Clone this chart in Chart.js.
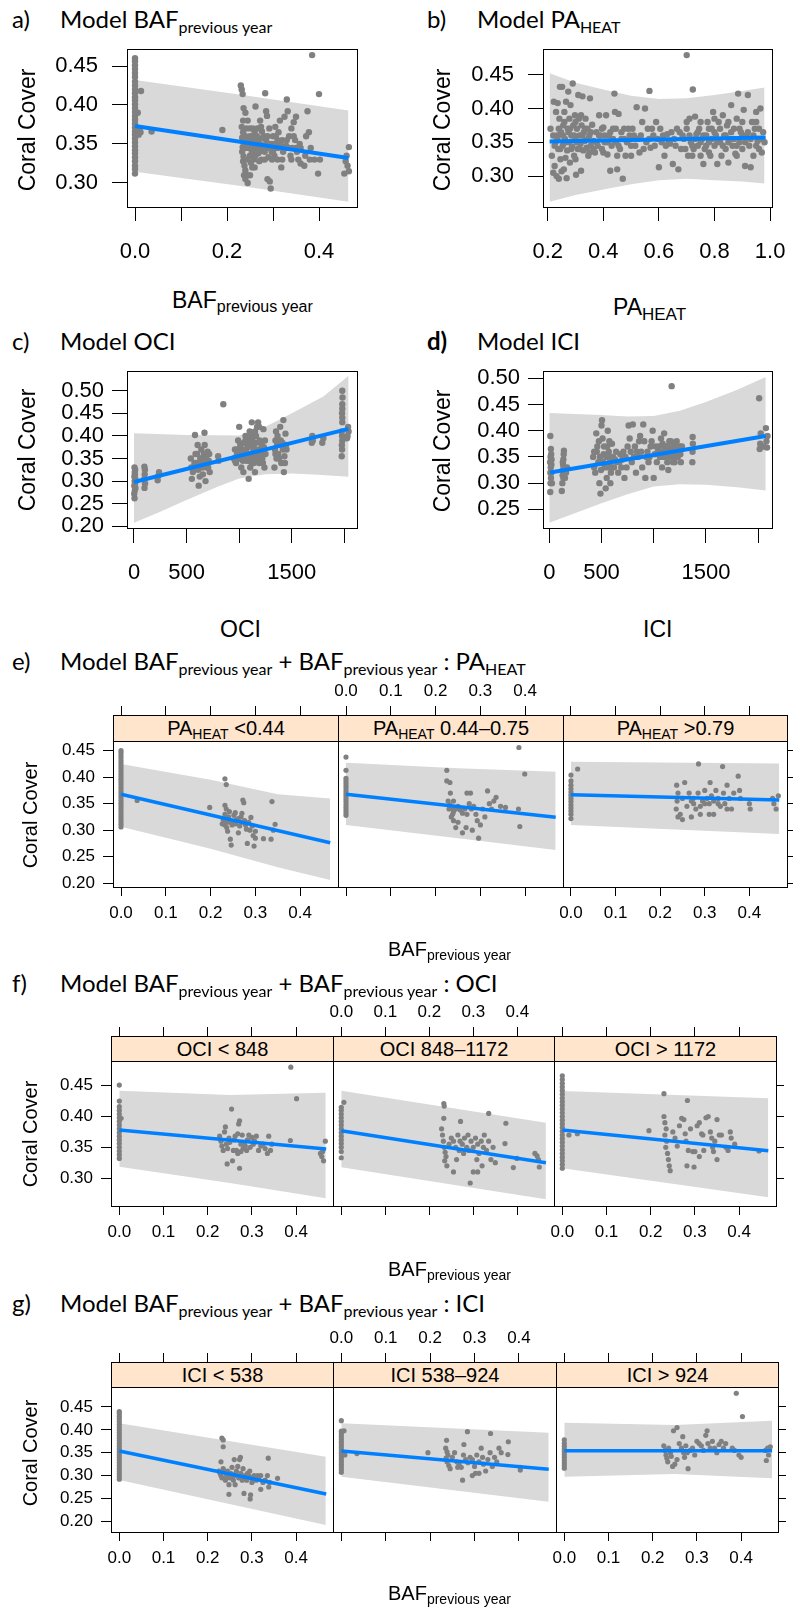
<!DOCTYPE html>
<html>
<head>
<meta charset="utf-8">
<script src="https://cdn.jsdelivr.net/npm/chart.js@4.4.1/dist/chart.umd.min.js"></script>
<style>
  body { margin: 0; width: 793px; height: 1607px; position: relative; overflow: hidden; background: #fff; }
  canvas { position: absolute; }
  .txt { position: absolute; white-space: nowrap; color: #000; }
  .sub { position: relative; top: 0.3em; line-height: 0; }
  .strip { position: absolute; box-sizing: border-box; background: #ffe5cc; border: 1px solid #000;
           display: flex; align-items: center; justify-content: center; font: 20px "Liberation Sans"; white-space: nowrap; }
</style>
</head>
<body>
<script>
// ---- panel a: Model BAF previous year ----
const aXTicks = [0, 0.1, 0.2, 0.3, 0.4];
const aXLabels = ["0.0", "", "0.2", "", "0.4"];
const aYTicks = [0.30, 0.35, 0.40, 0.45];
const aFit = [[0, 0.373], [0.464, 0.332]];
const aUpper = [[0, 0.432], [0.23, 0.413], [0.464, 0.393]];
const aLower = [[0, 0.3145], [0.23, 0.296], [0.464, 0.276]];
const aCol = [0.312, 0.318, 0.322, 0.328, 0.333, 0.338, 0.342, 0.347, 0.352, 0.357, 0.362, 0.366, 0.371, 0.376, 0.381, 0.386, 0.391, 0.396, 0.401, 0.406, 0.41, 0.415, 0.42, 0.425, 0.43, 0.436, 0.441, 0.446, 0.451, 0.456, 0.46];
const aPts = [[0.008, 0.362], [0.012, 0.365], [0.01, 0.37], [0.013, 0.418], [0.036, 0.366], [0.006, 0.39], [0.19, 0.368],
  [0.23, 0.425], [0.232, 0.42], [0.234, 0.414], [0.236, 0.396], [0.24, 0.39], [0.235, 0.38], [0.232, 0.372], [0.235, 0.365], [0.233, 0.358], [0.236, 0.352], [0.234, 0.346], [0.233, 0.34], [0.236, 0.334], [0.235, 0.328], [0.238, 0.322], [0.24, 0.316], [0.243, 0.31], [0.245, 0.3],
  [0.25, 0.36], [0.248, 0.345], [0.25, 0.335], [0.252, 0.326], [0.255, 0.345], [0.257, 0.355], [0.26, 0.34], [0.258, 0.33], [0.262, 0.398], [0.265, 0.36], [0.267, 0.35], [0.268, 0.338], [0.27, 0.328], [0.272, 0.38], [0.274, 0.372], [0.276, 0.366], [0.278, 0.358], [0.28, 0.348], [0.282, 0.34],
  [0.283, 0.415], [0.285, 0.392], [0.287, 0.386], [0.29, 0.333], [0.288, 0.305], [0.293, 0.302], [0.295, 0.293], [0.297, 0.34], [0.3, 0.36], [0.302, 0.35], [0.305, 0.372], [0.308, 0.345], [0.31, 0.33], [0.312, 0.365], [0.315, 0.38], [0.318, 0.32], [0.32, 0.355], [0.322, 0.34],
  [0.325, 0.385], [0.328, 0.348], [0.33, 0.407], [0.332, 0.392], [0.335, 0.36], [0.338, 0.335], [0.34, 0.37], [0.342, 0.345], [0.345, 0.378], [0.348, 0.355], [0.35, 0.385], [0.352, 0.34], [0.355, 0.33], [0.358, 0.35], [0.36, 0.325], [0.368, 0.322],
  [0.372, 0.36], [0.375, 0.392], [0.378, 0.365], [0.382, 0.345], [0.385, 0.464], [0.39, 0.33], [0.398, 0.312], [0.4, 0.414], [0.402, 0.33], [0.455, 0.312], [0.46, 0.335], [0.462, 0.322], [0.465, 0.315], [0.465, 0.346], [0.458, 0.328],
  [0.245, 0.35], [0.24, 0.36], [0.26, 0.365], [0.27, 0.345], [0.29, 0.35], [0.3, 0.34], [0.31, 0.355], [0.33, 0.345], [0.244, 0.33], [0.255, 0.32],
  [0.238, 0.36], [0.24, 0.345], [0.242, 0.37], [0.245, 0.38], [0.246, 0.355], [0.25, 0.37], [0.252, 0.35], [0.254, 0.34], [0.256, 0.37], [0.258, 0.36], [0.26, 0.35], [0.262, 0.335], [0.264, 0.345], [0.266, 0.37], [0.268, 0.355], [0.27, 0.34], [0.272, 0.35], [0.275, 0.33], [0.277, 0.345], [0.28, 0.36], [0.282, 0.33], [0.285, 0.355], [0.288, 0.36], [0.29, 0.345], [0.292, 0.37], [0.295, 0.35], [0.298, 0.33], [0.3, 0.345], [0.303, 0.335], [0.306, 0.36], [0.31, 0.345], [0.315, 0.35], [0.32, 0.33], [0.325, 0.345], [0.33, 0.355], [0.335, 0.345], [0.34, 0.33], [0.345, 0.36], [0.35, 0.345], [0.36, 0.345], [0.37, 0.335], [0.38, 0.33], [0.237, 0.31], [0.24, 0.305], [0.25, 0.31], [0.26, 0.32]];

// ---- panel b: Model PA HEAT ----
const bXTicks = [0.2, 0.4, 0.6, 0.8, 1.0];
const bXLabels = ["0.2", "0.4", "0.6", "0.8", "1.0"];
const bYTicks = [0.30, 0.35, 0.40, 0.45];
const bFit = [[0.207, 0.351], [0.984, 0.357]];
const bUpper = [[0.207, 0.452], [0.3, 0.438], [0.4, 0.428], [0.5, 0.419], [0.6, 0.414], [0.7, 0.415], [0.8, 0.42], [0.9, 0.426], [0.98, 0.431]];
const bLower = [[0.207, 0.262], [0.3, 0.272], [0.4, 0.28], [0.5, 0.288], [0.6, 0.294], [0.7, 0.296], [0.8, 0.294], [0.9, 0.292], [0.98, 0.289]];
const bPts = [[0.21, 0.37], [0.215, 0.33], [0.22, 0.305], [0.222, 0.41], [0.225, 0.315], [0.228, 0.35], [0.23, 0.395], [0.232, 0.3], [0.234, 0.36], [0.236, 0.408], [0.238, 0.34], [0.24, 0.296], [0.242, 0.385], [0.244, 0.432], [0.246, 0.325], [0.248, 0.365], [0.25, 0.307], [0.252, 0.432], [0.254, 0.345], [0.256, 0.375], [0.258, 0.31], [0.26, 0.395], [0.262, 0.355], [0.264, 0.327], [0.266, 0.41], [0.268, 0.297], [0.27, 0.338], [0.272, 0.37], [0.274, 0.425], [0.276, 0.35], [0.278, 0.385], [0.28, 0.32], [0.282, 0.405], [0.285, 0.36], [0.288, 0.344], [0.29, 0.437], [0.292, 0.375], [0.295, 0.33], [0.298, 0.39], [0.3, 0.355], [0.302, 0.302], [0.305, 0.37], [0.308, 0.34], [0.31, 0.42], [0.312, 0.385], [0.315, 0.36], [0.318, 0.348], [0.32, 0.308], [0.322, 0.375], [0.325, 0.418], [0.328, 0.338], [0.33, 0.365], [0.333, 0.352], [0.336, 0.385], [0.34, 0.342], [0.343, 0.37], [0.346, 0.33], [0.35, 0.36], [0.352, 0.415], [0.355, 0.345], [0.36, 0.376], [0.365, 0.352], [0.37, 0.335], [0.375, 0.365], [0.38, 0.345], [0.385, 0.39], [0.39, 0.36], [0.395, 0.34], [0.4, 0.372], [0.405, 0.35], [0.41, 0.39], [0.415, 0.332], [0.42, 0.36], [0.425, 0.308], [0.43, 0.345], [0.435, 0.37], [0.44, 0.422], [0.442, 0.395], [0.445, 0.35], [0.45, 0.31], [0.455, 0.392], [0.46, 0.34], [0.465, 0.365], [0.47, 0.296], [0.475, 0.355], [0.48, 0.33], [0.49, 0.37], [0.5, 0.345], [0.51, 0.36], [0.52, 0.402], [0.53, 0.335], [0.54, 0.38], [0.55, 0.4], [0.555, 0.35], [0.56, 0.37], [0.566, 0.426], [0.57, 0.342], [0.58, 0.36], [0.59, 0.38], [0.6, 0.313], [0.61, 0.35], [0.62, 0.33], [0.63, 0.362], [0.64, 0.348], [0.65, 0.318], [0.66, 0.345], [0.67, 0.31], [0.675, 0.365], [0.68, 0.34], [0.69, 0.355], [0.7, 0.479], [0.705, 0.33], [0.71, 0.385], [0.715, 0.35], [0.722, 0.428], [0.725, 0.34], [0.73, 0.388], [0.735, 0.362], [0.74, 0.345], [0.745, 0.37], [0.75, 0.33], [0.755, 0.355], [0.76, 0.318], [0.765, 0.34], [0.77, 0.36], [0.775, 0.38], [0.78, 0.35], [0.785, 0.33], [0.79, 0.37], [0.795, 0.395], [0.8, 0.345], [0.805, 0.36], [0.81, 0.318], [0.815, 0.38], [0.82, 0.35], [0.825, 0.33], [0.83, 0.39], [0.835, 0.36], [0.84, 0.34], [0.845, 0.375], [0.85, 0.32], [0.855, 0.355], [0.86, 0.405], [0.865, 0.345], [0.87, 0.37], [0.875, 0.333], [0.88, 0.385], [0.885, 0.422], [0.89, 0.35], [0.895, 0.365], [0.9, 0.34], [0.905, 0.398], [0.91, 0.315], [0.915, 0.36], [0.92, 0.42], [0.925, 0.345], [0.93, 0.313], [0.935, 0.38], [0.94, 0.33], [0.945, 0.37], [0.95, 0.395], [0.955, 0.352], [0.96, 0.34], [0.965, 0.4], [0.97, 0.335], [0.975, 0.365], [0.98, 0.35],
  [0.22, 0.36], [0.225, 0.345], [0.235, 0.355], [0.245, 0.34], [0.255, 0.36], [0.265, 0.35], [0.275, 0.365], [0.285, 0.34], [0.295, 0.36], [0.305, 0.35], [0.315, 0.34], [0.325, 0.36], [0.335, 0.37], [0.345, 0.355], [0.355, 0.365], [0.365, 0.34], [0.375, 0.35], [0.385, 0.36], [0.395, 0.37], [0.405, 0.36], [0.415, 0.35], [0.425, 0.365], [0.435, 0.355], [0.445, 0.37], [0.455, 0.345], [0.465, 0.355], [0.475, 0.37], [0.485, 0.35], [0.495, 0.36], [0.505, 0.37], [0.515, 0.345], [0.525, 0.355], [0.535, 0.36], [0.545, 0.34], [0.565, 0.355], [0.575, 0.37], [0.585, 0.345], [0.595, 0.355], [0.605, 0.37], [0.615, 0.36], [0.625, 0.345], [0.635, 0.35], [0.645, 0.365], [0.655, 0.355], [0.665, 0.37], [0.685, 0.36], [0.695, 0.34], [0.7, 0.37], [0.71, 0.36], [0.72, 0.345], [0.73, 0.355], [0.74, 0.365], [0.75, 0.35], [0.76, 0.36], [0.77, 0.345], [0.78, 0.37], [0.79, 0.355], [0.8, 0.365], [0.81, 0.35], [0.82, 0.37], [0.83, 0.345], [0.84, 0.36], [0.85, 0.35], [0.86, 0.365], [0.87, 0.355], [0.88, 0.345], [0.89, 0.37], [0.9, 0.36], [0.91, 0.35], [0.92, 0.365], [0.93, 0.355], [0.94, 0.36], [0.95, 0.345], [0.96, 0.37], [0.97, 0.355], [0.3, 0.38], [0.32, 0.39], [0.28, 0.37], [0.26, 0.38], [0.24, 0.37], [0.7, 0.38], [0.75, 0.38], [0.8, 0.385], [0.85, 0.38], [0.9, 0.38], [0.95, 0.38], [0.72, 0.33], [0.78, 0.335], [0.88, 0.33], [0.5, 0.33], [0.45, 0.33], [0.4, 0.335], [0.35, 0.335], [0.3, 0.325]];

// ---- panel c: Model OCI ----
const cXTicks = [0, 500, 1000, 1500, 2000];
const cXLabels = ["0", "500", "", "1500", ""];
const cYTicks = [0.20, 0.25, 0.30, 0.35, 0.40, 0.45, 0.50];
const cFit = [[0, 0.298], [2038, 0.4155]];
const cUpper = [[0, 0.406], [500, 0.402], [1000, 0.401], [1250, 0.42], [1500, 0.45], [1800, 0.487], [2040, 0.533]];
const cLower = [[0, 0.208], [250, 0.232], [500, 0.258], [800, 0.288], [1000, 0.306], [1250, 0.315], [1500, 0.317], [1750, 0.314], [2040, 0.3095]];
const cPts = [[5, 0.262], [8, 0.28], [3, 0.29], [10, 0.295], [6, 0.30], [12, 0.305], [4, 0.31], [9, 0.315], [7, 0.32], [11, 0.325], [5, 0.33], [14, 0.285], [2, 0.272],
  [100, 0.285], [105, 0.295], [98, 0.305], [102, 0.315], [104, 0.325], [99, 0.332], [225, 0.302], [232, 0.312], [238, 0.32],
  [540, 0.35], [545, 0.33], [550, 0.305], [580, 0.402], [590, 0.34], [600, 0.36], [605, 0.38], [610, 0.325], [615, 0.29], [620, 0.335], [630, 0.35], [640, 0.37], [650, 0.33], [655, 0.315], [660, 0.34], [665, 0.36], [670, 0.407], [672, 0.38], [680, 0.30], [685, 0.35], [690, 0.33], [700, 0.365], [710, 0.345], [720, 0.32],
  [800, 0.355], [805, 0.345], [849, 0.47],
  [950, 0.35], [960, 0.37], [970, 0.34], [980, 0.36], [990, 0.39], [1000, 0.42], [1005, 0.35], [1010, 0.38], [1020, 0.33], [1030, 0.37], [1040, 0.32], [1050, 0.36], [1060, 0.39], [1070, 0.345], [1080, 0.375], [1090, 0.305], [1100, 0.41], [1105, 0.33], [1110, 0.36], [1120, 0.43], [1130, 0.35], [1140, 0.38], [1150, 0.32], [1160, 0.4], [1170, 0.36], [1180, 0.43], [1190, 0.34], [1200, 0.385], [1210, 0.37], [1220, 0.35], [1230, 0.415], [1240, 0.33], [1250, 0.36], [1100, 0.385], [1125, 0.395], [1150, 0.41], [1175, 0.35], [1060, 0.4], [1090, 0.355], [1140, 0.34], [1200, 0.36], [1010, 0.36],
  [1335, 0.33], [1340, 0.37], [1345, 0.39], [1350, 0.41], [1355, 0.35], [1360, 0.38], [1370, 0.36], [1390, 0.42], [1400, 0.34], [1410, 0.385], [1420, 0.435], [1425, 0.32], [1430, 0.355], [1440, 0.405], [1450, 0.37],
  [1690, 0.385], [1695, 0.40], [1700, 0.39], [1790, 0.385], [1800, 0.395],
  [1975, 0.355], [1978, 0.37], [1980, 0.39], [1975, 0.41], [1980, 0.43], [1978, 0.45], [1980, 0.47], [1982, 0.485], [1980, 0.50], [1976, 0.38], [1978, 0.4], [1980, 0.44], [1980, 0.46], [2030, 0.40], [2035, 0.42], [2040, 0.41], [2025, 0.395],
  [560, 0.32], [575, 0.34], [585, 0.36], [595, 0.33], [625, 0.31], [635, 0.34], [645, 0.35], [675, 0.35], [695, 0.34], [705, 0.33], [715, 0.36], [960, 0.345], [975, 0.355], [985, 0.37], [995, 0.35], [1015, 0.36], [1025, 0.355], [1035, 0.345], [1045, 0.385], [1055, 0.35], [1065, 0.37], [1075, 0.36], [1085, 0.39], [1095, 0.345], [1115, 0.38], [1135, 0.37], [1145, 0.36], [1155, 0.385], [1165, 0.345], [1185, 0.37], [1195, 0.39], [1205, 0.355], [1215, 0.38], [1225, 0.34], [1235, 0.375], [1245, 0.39], [1120, 0.34], [1170, 0.42], [1190, 0.42], [1110, 0.4], [1345, 0.36], [1365, 0.4], [1380, 0.35], [1395, 0.39], [1415, 0.37], [1435, 0.34], [1445, 0.38]];

// ---- panel d: Model ICI ----
const dXTicks = [0, 500, 1000, 1500, 2000];
const dXLabels = ["0", "500", "", "1500", ""];
const dYTicks = [0.25, 0.30, 0.35, 0.40, 0.45, 0.50];
const dFit = [[7, 0.3202], [2073, 0.39]];
const dUpper = [[0, 0.434], [250, 0.432], [500, 0.43], [750, 0.427], [1000, 0.428], [1250, 0.438], [1500, 0.455], [1800, 0.478], [2073, 0.5025]];
const dLower = [[0, 0.2244], [250, 0.243], [500, 0.2614], [750, 0.279], [1000, 0.2935], [1250, 0.298], [1500, 0.2968], [1800, 0.292], [2073, 0.2857]];
const dPts = [[10, 0.39], [15, 0.365], [12, 0.35], [8, 0.34], [14, 0.33], [10, 0.32], [16, 0.31], [12, 0.30], [9, 0.283], [18, 0.355], [20, 0.335], [22, 0.345],
  [120, 0.285], [125, 0.30], [128, 0.315], [130, 0.325], [132, 0.335], [135, 0.345], [138, 0.355], [140, 0.362], [160, 0.32], [170, 0.33], [150, 0.31],
  [420, 0.35], [430, 0.33], [440, 0.32], [450, 0.395], [460, 0.37], [470, 0.34], [480, 0.30], [490, 0.28], [500, 0.41], [505, 0.42], [510, 0.385], [520, 0.355], [530, 0.33], [540, 0.29], [550, 0.31], [560, 0.40], [570, 0.36], [580, 0.34], [590, 0.32], [600, 0.375], [610, 0.35], [620, 0.33], [640, 0.36], [650, 0.34], [660, 0.32], [680, 0.355], [700, 0.345], [720, 0.31], [740, 0.33], [760, 0.41], [770, 0.385], [780, 0.36], [790, 0.34], [800, 0.412], [820, 0.37], [830, 0.32], [850, 0.35], [870, 0.39], [880, 0.36], [890, 0.33], [900, 0.412], [910, 0.38], [920, 0.31], [930, 0.35], [950, 0.34], [970, 0.37], [990, 0.40], [1000, 0.31],
  [1010, 0.355], [1030, 0.34], [1050, 0.37], [1060, 0.35], [1070, 0.385], [1080, 0.33], [1090, 0.36], [1100, 0.395], [1110, 0.35], [1120, 0.37], [1130, 0.34], [1140, 0.325], [1150, 0.38], [1160, 0.36], [1172, 0.485], [1180, 0.35], [1190, 0.375], [1200, 0.34], [1210, 0.36], [1220, 0.38], [1230, 0.35], [1250, 0.37], [1260, 0.34],
  [1370, 0.34], [1372, 0.36], [1375, 0.375], [1373, 0.388],
  [2010, 0.462], [2015, 0.365], [2020, 0.375], [2025, 0.395], [2050, 0.37], [2075, 0.405], [2080, 0.38], [2090, 0.39], [2085, 0.368],
  [430, 0.36], [455, 0.36], [475, 0.38], [485, 0.35], [495, 0.325], [515, 0.34], [525, 0.37], [545, 0.35], [555, 0.37], [565, 0.33], [575, 0.38], [585, 0.3], [595, 0.35], [605, 0.33], [630, 0.345], [670, 0.34], [690, 0.33], [710, 0.36], [730, 0.35], [750, 0.37], [810, 0.35], [840, 0.36], [860, 0.38], [940, 0.36], [960, 0.35], [980, 0.38], [1020, 0.37], [1040, 0.36], [1065, 0.36], [1085, 0.375], [1095, 0.35], [1105, 0.37], [1115, 0.36], [1125, 0.355], [1135, 0.37], [1145, 0.35], [1155, 0.365], [1165, 0.38], [1175, 0.36], [1185, 0.34], [1195, 0.36], [1205, 0.37], [1215, 0.35], [1225, 0.365], [1240, 0.36], [1255, 0.355], [1270, 0.37], [20, 0.32], [25, 0.3], [130, 0.34], [135, 0.31]];

// ---- facet rows e, f, g (shared x ticks) ----
const facetXTicks = [0, 0.1, 0.2, 0.3, 0.4];
const facetXLabels = ["0.0", "0.1", "0.2", "0.3", "0.4"];
const eYTicks = [0.20, 0.25, 0.30, 0.35, 0.40, 0.45];
const fYTicks = [0.30, 0.35, 0.40, 0.45];
const gYTicks = [0.20, 0.25, 0.30, 0.35, 0.40, 0.45];
const eStrips = ['PA<span class="sub" style="font-size:14px">HEAT</span> &lt;0.44', 'PA<span class="sub" style="font-size:14px">HEAT</span> 0.44\u20130.75', 'PA<span class="sub" style="font-size:14px">HEAT</span> &gt;0.79'];
const fStrips = ["OCI &lt; 848", "OCI 848\u20131172", "OCI &gt; 1172"];
const gStrips = ["ICI &lt; 538", "ICI 538\u2013924", "ICI &gt; 924"];

const e1Fit = [[0, 0.3677], [0.467, 0.2764]];
const e1Upper = [[0, 0.425], [0.2, 0.395], [0.35, 0.368], [0.467, 0.36]];
const e1Lower = [[0, 0.3066], [0.2, 0.265], [0.35, 0.23], [0.467, 0.206]];
const e1Col = [0.306, 0.311, 0.316, 0.321, 0.326, 0.331, 0.336, 0.341, 0.346, 0.351, 0.356, 0.361, 0.366, 0.371, 0.376, 0.381, 0.386, 0.391, 0.396, 0.401, 0.406, 0.411, 0.416, 0.421, 0.426, 0.431, 0.436, 0.441, 0.446, 0.45];
const e1Pts = [[0.036, 0.356], [0.198, 0.343], [0.232, 0.397], [0.235, 0.386], [0.232, 0.347], [0.235, 0.34], [0.232, 0.33], [0.234, 0.318], [0.232, 0.31], [0.236, 0.305], [0.238, 0.298], [0.24, 0.325], [0.242, 0.335], [0.244, 0.283], [0.246, 0.272], [0.25, 0.315], [0.252, 0.328], [0.255, 0.333], [0.258, 0.32], [0.262, 0.295], [0.265, 0.308], [0.268, 0.325], [0.27, 0.332], [0.272, 0.357], [0.274, 0.352], [0.276, 0.318], [0.278, 0.31], [0.28, 0.302], [0.282, 0.275], [0.285, 0.315], [0.288, 0.30], [0.29, 0.324], [0.293, 0.308], [0.295, 0.29], [0.297, 0.27], [0.3, 0.285], [0.3, 0.298], [0.318, 0.284], [0.335, 0.283], [0.337, 0.354], [0.34, 0.3], [0.344, 0.311], [0.226, 0.312], [0.228, 0.32], [0.24, 0.315], [0.248, 0.31], [0.256, 0.312], [0.262, 0.322], [0.27, 0.315]];

const e2Fit = [[0, 0.3677], [0.468, 0.3243]];
const e2Upper = [[0, 0.4274], [0.25, 0.417], [0.468, 0.4104]];
const e2Lower = [[0, 0.3099], [0.25, 0.285], [0.468, 0.2628]];
const e2Col = [0.328, 0.333, 0.338, 0.343, 0.348, 0.353, 0.358, 0.363, 0.368, 0.373, 0.378, 0.383, 0.388, 0.393, 0.398, 0.413, 0.438];
const e2Pts = [[0.386, 0.456], [0.399, 0.406], [0.225, 0.413], [0.225, 0.393], [0.232, 0.39], [0.233, 0.37], [0.24, 0.355], [0.228, 0.355], [0.232, 0.348], [0.236, 0.342], [0.24, 0.335], [0.245, 0.34], [0.25, 0.345], [0.255, 0.338], [0.26, 0.332], [0.235, 0.325], [0.24, 0.318], [0.25, 0.315], [0.245, 0.305], [0.27, 0.37], [0.278, 0.37], [0.275, 0.35], [0.28, 0.34], [0.285, 0.345], [0.29, 0.33], [0.293, 0.318], [0.296, 0.285], [0.3, 0.31], [0.305, 0.34], [0.31, 0.325], [0.316, 0.374], [0.32, 0.35], [0.325, 0.34], [0.33, 0.355], [0.335, 0.362], [0.345, 0.345], [0.356, 0.343], [0.385, 0.34], [0.388, 0.307], [0.268, 0.305], [0.26, 0.295], [0.282, 0.3], [0.23, 0.34], [0.238, 0.33], [0.265, 0.34], [0.27, 0.33]];

const e3Fit = [[0, 0.367], [0.467, 0.357]];
const e3Upper = [[0, 0.4293], [0.467, 0.426]];
const e3Lower = [[0, 0.31], [0.467, 0.2928]];
const e3Col = [0.322, 0.33, 0.336, 0.342, 0.348, 0.354, 0.36, 0.366, 0.372, 0.378, 0.385, 0.393, 0.404];
const e3Pts = [[0.015, 0.4155], [0.237, 0.385], [0.24, 0.37], [0.238, 0.355], [0.236, 0.34], [0.24, 0.325], [0.245, 0.33], [0.25, 0.36], [0.255, 0.39], [0.26, 0.345], [0.265, 0.37], [0.27, 0.355], [0.274, 0.36], [0.28, 0.34], [0.285, 0.37], [0.286, 0.425], [0.29, 0.33], [0.295, 0.355], [0.3, 0.375], [0.305, 0.36], [0.31, 0.35], [0.312, 0.39], [0.315, 0.365], [0.32, 0.33], [0.325, 0.375], [0.33, 0.36], [0.335, 0.345], [0.34, 0.42], [0.342, 0.37], [0.345, 0.35], [0.35, 0.385], [0.355, 0.36], [0.36, 0.34], [0.365, 0.37], [0.375, 0.402], [0.378, 0.375], [0.38, 0.36], [0.4, 0.35], [0.402, 0.34], [0.452, 0.36], [0.455, 0.35], [0.46, 0.34], [0.465, 0.365], [0.25, 0.32], [0.27, 0.325], [0.31, 0.33], [0.35, 0.34], [0.275, 0.35], [0.29, 0.345], [0.3, 0.35], [0.32, 0.355], [0.33, 0.35]];

const f1Fit = [[0, 0.378], [0.468, 0.3473]];
const f1Upper = [[0, 0.4419], [0.25, 0.435], [0.467, 0.4386]];
const f1Lower = [[0, 0.3185], [0.25, 0.292], [0.467, 0.2672]];
const f1Col = [0.332, 0.338, 0.344, 0.35, 0.356, 0.362, 0.368, 0.374, 0.38, 0.386, 0.392, 0.398, 0.404, 0.41, 0.416, 0.425, 0.451];
const f1Pts = [[0.004, 0.397], [0.227, 0.368], [0.23, 0.36], [0.232, 0.352], [0.235, 0.345], [0.238, 0.375], [0.24, 0.383], [0.242, 0.355], [0.245, 0.348], [0.244, 0.323], [0.248, 0.365], [0.25, 0.358], [0.254, 0.412], [0.256, 0.328], [0.258, 0.345], [0.26, 0.362], [0.262, 0.368], [0.265, 0.345], [0.268, 0.372], [0.27, 0.388], [0.272, 0.393], [0.272, 0.316], [0.275, 0.355], [0.278, 0.37], [0.28, 0.348], [0.283, 0.358], [0.285, 0.352], [0.288, 0.345], [0.29, 0.362], [0.293, 0.37], [0.296, 0.35], [0.3, 0.366], [0.303, 0.355], [0.306, 0.36], [0.31, 0.368], [0.315, 0.345], [0.32, 0.352], [0.325, 0.355], [0.33, 0.348], [0.335, 0.34], [0.338, 0.368], [0.342, 0.345], [0.345, 0.355], [0.388, 0.48], [0.401, 0.429], [0.387, 0.361], [0.455, 0.34], [0.458, 0.335], [0.46, 0.343], [0.462, 0.328], [0.466, 0.36], [0.268, 0.34], [0.275, 0.343]];

const f2Fit = [[0, 0.377], [0.465, 0.325]];
const f2Upper = [[0, 0.442], [0.465, 0.39]];
const f2Lower = [[0, 0.3175], [0.465, 0.2656]];
const f2Col = [0.333, 0.343, 0.35, 0.356, 0.362, 0.368, 0.374, 0.38, 0.386, 0.392, 0.398, 0.404, 0.41, 0.415];
const f2Pts = [[0.006, 0.423], [0.233, 0.421], [0.234, 0.417], [0.233, 0.397], [0.271, 0.392], [0.335, 0.405], [0.374, 0.389], [0.228, 0.38], [0.23, 0.37], [0.232, 0.36], [0.234, 0.35], [0.236, 0.342], [0.238, 0.335], [0.235, 0.328], [0.24, 0.32], [0.245, 0.355], [0.25, 0.365], [0.255, 0.36], [0.26, 0.35], [0.265, 0.37], [0.268, 0.345], [0.27, 0.36], [0.275, 0.355], [0.278, 0.34], [0.28, 0.365], [0.285, 0.35], [0.288, 0.37], [0.29, 0.345], [0.293, 0.292], [0.295, 0.36], [0.3, 0.35], [0.305, 0.365], [0.308, 0.33], [0.31, 0.355], [0.313, 0.34], [0.318, 0.36], [0.32, 0.32], [0.323, 0.35], [0.325, 0.37], [0.33, 0.345], [0.335, 0.36], [0.34, 0.33], [0.345, 0.35], [0.35, 0.325], [0.372, 0.356], [0.399, 0.332], [0.391, 0.317], [0.448, 0.33], [0.45, 0.318], [0.445, 0.336], [0.44, 0.34], [0.255, 0.31], [0.262, 0.33], [0.3, 0.31], [0.31, 0.31]];

const f3Fit = [[0, 0.378], [0.466, 0.3445]];
const f3Upper = [[0, 0.4414], [0.466, 0.4295]];
const f3Lower = [[0, 0.316], [0.466, 0.2688]];
const f3Col = [0.316, 0.322, 0.328, 0.334, 0.34, 0.346, 0.352, 0.358, 0.364, 0.37, 0.376, 0.382, 0.388, 0.394, 0.4, 0.406, 0.412, 0.418, 0.424, 0.43, 0.436, 0.442, 0.448, 0.454, 0.46, 0.466];
const f3Pts = [[0.015, 0.37], [0.034, 0.372], [0.196, 0.377], [0.23, 0.437], [0.283, 0.426], [0.445, 0.344], [0.23, 0.4], [0.232, 0.39], [0.235, 0.38], [0.232, 0.37], [0.236, 0.36], [0.234, 0.35], [0.238, 0.34], [0.24, 0.33], [0.242, 0.32], [0.244, 0.312], [0.25, 0.375], [0.255, 0.365], [0.26, 0.352], [0.265, 0.385], [0.27, 0.397], [0.275, 0.395], [0.278, 0.372], [0.28, 0.36], [0.282, 0.32], [0.285, 0.345], [0.29, 0.38], [0.295, 0.343], [0.298, 0.318], [0.3, 0.343], [0.305, 0.385], [0.31, 0.39], [0.315, 0.372], [0.318, 0.37], [0.32, 0.345], [0.325, 0.398], [0.33, 0.4], [0.335, 0.375], [0.338, 0.365], [0.34, 0.35], [0.342, 0.343], [0.345, 0.36], [0.35, 0.395], [0.355, 0.37], [0.36, 0.37], [0.37, 0.35], [0.375, 0.345], [0.38, 0.375], [0.382, 0.365], [0.39, 0.355], [0.35, 0.33], [0.31, 0.335]];

const g1Fit = [[0, 0.3538], [0.468, 0.2597]];
const g1Upper = [[0, 0.4143], [0.467, 0.3413]];
const g1Lower = [[0, 0.2903], [0.467, 0.1919]];
const g1Col = [0.292, 0.298, 0.304, 0.31, 0.316, 0.322, 0.328, 0.334, 0.34, 0.346, 0.352, 0.358, 0.364, 0.37, 0.376, 0.382, 0.388, 0.394, 0.4, 0.406, 0.412, 0.418, 0.424, 0.43, 0.436, 0.44];
const g1Pts = [[0.232, 0.382], [0.235, 0.378], [0.235, 0.363], [0.337, 0.338], [0.358, 0.294], [0.297, 0.258], [0.296, 0.249], [0.282, 0.261], [0.248, 0.259], [0.225, 0.31], [0.228, 0.305], [0.23, 0.3], [0.232, 0.295], [0.235, 0.315], [0.238, 0.31], [0.24, 0.29], [0.242, 0.302], [0.245, 0.31], [0.248, 0.28], [0.25, 0.295], [0.252, 0.305], [0.255, 0.318], [0.258, 0.29], [0.26, 0.3], [0.262, 0.28], [0.265, 0.31], [0.268, 0.32], [0.27, 0.295], [0.272, 0.335], [0.274, 0.34], [0.275, 0.305], [0.278, 0.29], [0.28, 0.315], [0.285, 0.3], [0.288, 0.29], [0.29, 0.305], [0.295, 0.31], [0.298, 0.295], [0.3, 0.285], [0.305, 0.3], [0.31, 0.29], [0.315, 0.295], [0.32, 0.3], [0.325, 0.285], [0.33, 0.29], [0.335, 0.3], [0.338, 0.275], [0.34, 0.285], [0.32, 0.27], [0.26, 0.335], [0.23, 0.33], [0.243, 0.295], [0.253, 0.3], [0.263, 0.305], [0.283, 0.295], [0.293, 0.3], [0.303, 0.29], [0.313, 0.3]];

const g2Fit = [[0, 0.3538], [0.467, 0.3137]];
const g2Upper = [[0, 0.4143], [0.467, 0.3938]];
const g2Lower = [[0, 0.2975], [0.467, 0.2429]];
const g2Col = [0.307, 0.313, 0.319, 0.325, 0.331, 0.337, 0.343, 0.349, 0.355, 0.361, 0.367, 0.373, 0.379, 0.385, 0.391, 0.397, 0.42];
const g2Pts = [[0.006, 0.398], [0.008, 0.345], [0.035, 0.348], [0.195, 0.35], [0.284, 0.396], [0.336, 0.392], [0.376, 0.374], [0.375, 0.346], [0.403, 0.318], [0.403, 0.312], [0.273, 0.29], [0.237, 0.377], [0.235, 0.36], [0.238, 0.352], [0.24, 0.345], [0.236, 0.338], [0.238, 0.33], [0.242, 0.322], [0.245, 0.315], [0.25, 0.34], [0.255, 0.35], [0.26, 0.33], [0.262, 0.318], [0.265, 0.325], [0.27, 0.318], [0.275, 0.345], [0.276, 0.368], [0.28, 0.335], [0.285, 0.328], [0.29, 0.34], [0.295, 0.335], [0.3, 0.32], [0.302, 0.305], [0.305, 0.345], [0.31, 0.33], [0.315, 0.36], [0.318, 0.34], [0.32, 0.325], [0.325, 0.31], [0.33, 0.335], [0.335, 0.35], [0.34, 0.32], [0.345, 0.34], [0.35, 0.33], [0.355, 0.36], [0.36, 0.35], [0.31, 0.305], [0.295, 0.3]];

const g3Fit = [[0, 0.3544], [0.47, 0.3544]];
const g3Upper = [[0, 0.4157], [0.25, 0.4106], [0.47, 0.42]];
const g3Lower = [[0, 0.2976], [0.25, 0.3035], [0.47, 0.294]];
const g3Col = [0.316, 0.322, 0.328, 0.334, 0.34, 0.346, 0.352, 0.358, 0.364, 0.37, 0.378];
const g3Pts = [[0.389, 0.48], [0.403, 0.429], [0.255, 0.405], [0.247, 0.398], [0.323, 0.398], [0.225, 0.365], [0.228, 0.355], [0.23, 0.345], [0.232, 0.338], [0.234, 0.33], [0.236, 0.36], [0.24, 0.35], [0.242, 0.342], [0.245, 0.32], [0.25, 0.325], [0.255, 0.335], [0.26, 0.37], [0.265, 0.36], [0.268, 0.385], [0.27, 0.35], [0.272, 0.34], [0.275, 0.365], [0.278, 0.35], [0.28, 0.315], [0.285, 0.355], [0.29, 0.36], [0.295, 0.345], [0.3, 0.375], [0.305, 0.37], [0.31, 0.365], [0.315, 0.355], [0.32, 0.388], [0.325, 0.37], [0.33, 0.36], [0.335, 0.375], [0.34, 0.36], [0.345, 0.35], [0.35, 0.368], [0.355, 0.375], [0.36, 0.36], [0.365, 0.37], [0.38, 0.36], [0.385, 0.355], [0.395, 0.345], [0.4, 0.34], [0.455, 0.355], [0.46, 0.36], [0.462, 0.345], [0.466, 0.363], [0.457, 0.333]];

// ---- drawing ----
const GREY = "#808080";
const BLUE = "#0080ff";
const BAND = "#d9d9d9";
const FONT = "Liberation Sans";

const boxPlugin = {
  id: "box",
  afterDatasetsDraw(chart) {
    const { ctx, chartArea: a } = chart;
    ctx.save();
    ctx.strokeStyle = "#000";
    ctx.lineWidth = 1;
    ctx.strokeRect(a.left + 0.5, a.top + 0.5, a.right - a.left, a.bottom - a.top);
    ctx.restore();
  },
};

const xy = (pairs) => pairs.map(([x, y]) => ({ x, y }));

function axis(a, pos, size) {
  const horiz = pos === "top" || pos === "bottom";
  return {
    type: "linear",
    position: pos,
    bounds: "data",
    min: a.min,
    max: a.max,
    afterBuildTicks: (s) => { s.ticks = (a.ticks || []).map((v) => ({ value: v })); },
    afterFit: (s) => {
      if (horiz) s.height = size; else s.width = size;
      s.paddingLeft = 0; s.paddingRight = 0; s.paddingTop = 0; s.paddingBottom = 0;
    },
    grid: { display: !!a.ticks, drawOnChartArea: false, drawTicks: true, tickLength: a.len || 0, color: "#000", lineWidth: 1 },
    border: { display: false },
    ticks: {
      display: !!a.labels,
      autoSkip: false,
      maxRotation: 0,
      minRotation: 0,
      padding: a.pad || 0,
      color: "#000",
      font: { family: FONT, size: a.size || 17 },
      callback: (v, i) => (a.labels ? a.labels[i] : ""),
    },
  };
}

function plot(box, m, d, ax) {
  const c = document.createElement("canvas");
  c.width = box.r - box.l + m.l + m.r;
  c.height = box.b - box.t + m.t + m.b;
  c.style.left = box.l - m.l + "px";
  c.style.top = box.t - m.t + "px";
  document.body.appendChild(c);
  const pts = xy(d.pts).concat((d.col || []).map((y) => ({ x: 0, y })));
  new Chart(c, {
    type: "scatter",
    data: {
      datasets: [
        { data: xy(d.upper), showLine: true, borderWidth: 0, borderColor: "rgba(0,0,0,0)", pointRadius: 0, fill: "+1", backgroundColor: BAND, order: 3 },
        { data: xy(d.lower), showLine: true, borderWidth: 0, borderColor: "rgba(0,0,0,0)", pointRadius: 0, fill: false, order: 3 },
        { data: pts, pointRadius: d.r, pointBackgroundColor: GREY, pointBorderWidth: 0, backgroundColor: GREY, order: 2 },
        { data: xy(d.fit), showLine: true, borderColor: BLUE, borderWidth: d.lw, pointRadius: 0, fill: false, order: 1 },
      ],
    },
    options: {
      responsive: false,
      animation: false,
      events: [],
      layout: { padding: 0 },
      plugins: { legend: { display: false }, tooltip: { enabled: false }, title: { display: false } },
      scales: {
        x: axis(ax.x, "bottom", m.b),
        x2: axis(ax.x2 || { min: ax.x.min, max: ax.x.max }, "top", m.t),
        y: axis(ax.y, "left", m.l),
        y2: axis(ax.y2 || { min: ax.y.min, max: ax.y.max }, "right", m.r),
      },
    },
    plugins: [boxPlugin],
  });
}

// text helpers (HTML so subscripts stay real text)
const sub = (t, s) => `<span class="sub" style="font-size:${s}px">${t}</span>`;
function txt(html, x, base, size, fam, bold) {
  const e = document.createElement("div");
  e.className = "txt";
  e.innerHTML = html;
  e.style.fontFamily = fam;
  e.style.fontSize = size + "px";
  e.style.fontWeight = bold ? "bold" : "normal";
  e.style.lineHeight = size + "px";
  e.style.left = x + "px";
  e.style.top = base - (fam === "Lato" ? 0.887 : 0.8465) * size + "px";
  document.body.appendChild(e);
}
function yTitle(cx, cy, size) {
  const e = document.createElement("div");
  e.className = "txt";
  e.textContent = "Coral Cover";
  e.style.font = `${size}px "${FONT}"`;
  e.style.lineHeight = size + "px";
  e.style.left = cx + "px";
  e.style.top = cy + "px";
  e.style.transform = "translate(-50%,-50%) rotate(-90deg)";
  document.body.appendChild(e);
}

// top panels a-d
const big = { size: 22 };
plot({ l: 127, t: 49, r: 357, b: 207 }, { l: 127, r: 12, t: 6, b: 75 },
  { pts: aPts, col: aCol, upper: aUpper, lower: aLower, fit: aFit, r: 3.2, lw: 4 },
  { x: { min: -0.0174, max: 0.4826, ticks: aXTicks, labels: aXLabels, len: 14, pad: 18, ...big },
    y: { min: 0.2692, max: 0.4718, ticks: aYTicks, labels: aYTicks.map((v) => v.toFixed(2)), len: 15, pad: 14, ...big } });
plot({ l: 543, t: 49, r: 772, b: 207 }, { l: 130, r: 21, t: 6, b: 75 },
  { pts: bPts, upper: bUpper, lower: bLower, fit: bFit, r: 3.2, lw: 4 },
  { x: { min: 0.1831, max: 1.0068, ticks: bXTicks, labels: bXLabels, len: 14, pad: 18, ...big },
    y: { min: 0.2543, max: 0.488, ticks: bYTicks, labels: bYTicks.map((v) => v.toFixed(2)), len: 15, pad: 14, ...big } });
plot({ l: 127, t: 371, r: 357, b: 528 }, { l: 127, r: 12, t: 6, b: 75 },
  { pts: cPts, upper: cUpper, lower: cLower, fit: cFit, r: 3.2, lw: 4 },
  { x: { min: -66.5, max: 2120, ticks: cXTicks, labels: cXLabels, len: 15, pad: 17, ...big },
    y: { min: 0.1963, max: 0.5436, ticks: cYTicks, labels: cYTicks.map((v) => v.toFixed(2)), len: 15, pad: 8, ...big } });
plot({ l: 543, t: 371, r: 772, b: 528 }, { l: 130, r: 21, t: 6, b: 75 },
  { pts: dPts, upper: dUpper, lower: dLower, fit: dFit, r: 3.2, lw: 4 },
  { x: { min: -60.3, max: 2133, ticks: dXTicks, labels: dXLabels, len: 15, pad: 17, ...big },
    y: { min: 0.2144, max: 0.5139, ticks: dYTicks, labels: dYTicks.map((v) => v.toFixed(2)), len: 15, pad: 8, ...big } });

// facet rows
function facetRow(row) {
  row.xs.forEach(([l, r], i) => {
    const box = { l, t: row.top, r, b: row.bottom };
    const stripH = row.top - row.stripTop;
    const xBase = { min: row.xMin, max: row.xMax, ticks: facetXTicks };
    const yBase = { min: row.yMin, max: row.yMax };
    plot(box, { l: i === 0 ? 100 : 15, r: 12, t: 62, b: 40 },
      { ...row.data[i], r: 2.6, lw: 3.5 },
      {
        x: { ...xBase, labels: i === 1 ? null : facetXLabels, len: 9, pad: 7 },
        x2: { ...xBase, labels: i === 1 ? facetXLabels : null, len: stripH + 9, pad: 4 },
        y: i === 0 ? { ...yBase, ticks: row.yTicks, labels: row.yTicks.map((v) => v.toFixed(2)), len: 10, pad: 8 } : yBase,
        y2: i === 2 ? { ...yBase, ticks: row.yTicks, len: 8 } : yBase,
      });
  });
}
const rowE = { top: 741, bottom: 887, stripTop: 715, xs: [[113, 338], [338, 563], [563, 787]], xMin: -0.01786, xMax: 0.4844, yMin: 0.1928, yMax: 0.4683, yTicks: eYTicks, strips: eStrips,
  data: [{ pts: e1Pts, col: e1Col, upper: e1Upper, lower: e1Lower, fit: e1Fit }, { pts: e2Pts, col: e2Col, upper: e2Upper, lower: e2Lower, fit: e2Fit }, { pts: e3Pts, col: e3Col, upper: e3Upper, lower: e3Lower, fit: e3Fit }] };
const rowF = { top: 1061, bottom: 1206, stripTop: 1036, xs: [[111, 333], [333, 554], [554, 776]], xMin: -0.01878, xMax: 0.4834, yMin: 0.2547, yMax: 0.4901, yTicks: fYTicks, strips: fStrips,
  data: [{ pts: f1Pts, col: f1Col, upper: f1Upper, lower: f1Lower, fit: f1Fit }, { pts: f2Pts, col: f2Col, upper: f2Upper, lower: f2Lower, fit: f2Fit }, { pts: f3Pts, col: f3Col, upper: f3Upper, lower: f3Lower, fit: f3Fit }] };
const rowG = { top: 1387, bottom: 1532, stripTop: 1362, xs: [[111, 333], [333, 556], [556, 778]], xMin: -0.01878, xMax: 0.4834, yMin: 0.1766, yMax: 0.4937, yTicks: gYTicks, strips: gStrips,
  data: [{ pts: g1Pts, col: g1Col, upper: g1Upper, lower: g1Lower, fit: g1Fit }, { pts: g2Pts, col: g2Col, upper: g2Upper, lower: g2Lower, fit: g2Fit }, { pts: g3Pts, col: g3Col, upper: g3Upper, lower: g3Lower, fit: g3Fit }] };
[rowE, rowF, rowG].forEach(facetRow);

// strips on top of the canvases
[rowE, rowF, rowG].forEach((row) => {
  row.xs.forEach(([l, r], i) => {
    const s = document.createElement("div");
    s.className = "strip";
    s.style.left = l + "px";
    s.style.top = row.stripTop + "px";
    s.style.width = r - l + 1 + "px";
    s.style.height = row.top - row.stripTop + 1 + "px";
    s.innerHTML = "<span>" + row.strips[i] + "</span>";
    document.body.appendChild(s);
  });
});

// titles
const BAFsub = (s) => "BAF" + sub("previous year", s);
const TS = 24, TSS = 16;
txt("a)", 12, 28, TS, "Lato");
txt("Model " + BAFsub(TSS), 60, 28, TS, "Lato");
txt("b)", 427, 28, TS, "Lato");
txt("Model PA" + sub("HEAT", TSS), 477, 28, TS, "Lato");
txt("c)", 12, 350, TS, "Lato");
txt("Model OCI", 60, 350, TS, "Lato");
txt("d)", 427, 350, TS, "Lato", true);
txt("Model ICI", 477, 350, TS, "Lato");
txt("e)", 12, 670, TS, "Lato");
txt("Model " + BAFsub(TSS) + " + " + BAFsub(TSS) + " : PA" + sub("HEAT", TSS), 60, 670, TS, "Lato");
txt("f)", 12, 992, TS, "Lato");
txt("Model " + BAFsub(TSS) + " + " + BAFsub(TSS) + " : OCI", 60, 992, TS, "Lato");
txt("g)", 12, 1312, TS, "Lato");
txt("Model " + BAFsub(TSS) + " + " + BAFsub(TSS) + " : ICI", 60, 1312, TS, "Lato");

// axis titles
txt(BAFsub(16), 172, 308, 23, FONT);
txt("PA" + sub("HEAT", 17), 613, 315, 23, FONT);
txt("OCI", 220, 637, 23, FONT);
txt("ICI", 643, 637, 23, FONT);
txt(BAFsub(14), 388, 956, 20, FONT);
txt(BAFsub(14), 388, 1276, 20, FONT);
txt(BAFsub(14), 388, 1600, 20, FONT);
yTitle(27, 130, 23);
yTitle(442, 130, 23);
yTitle(27, 450, 23);
yTitle(442, 451, 23);
yTitle(30, 815, 20);
yTitle(30, 1134, 20);
yTitle(30, 1453, 20);
</script>
</body>
</html>
